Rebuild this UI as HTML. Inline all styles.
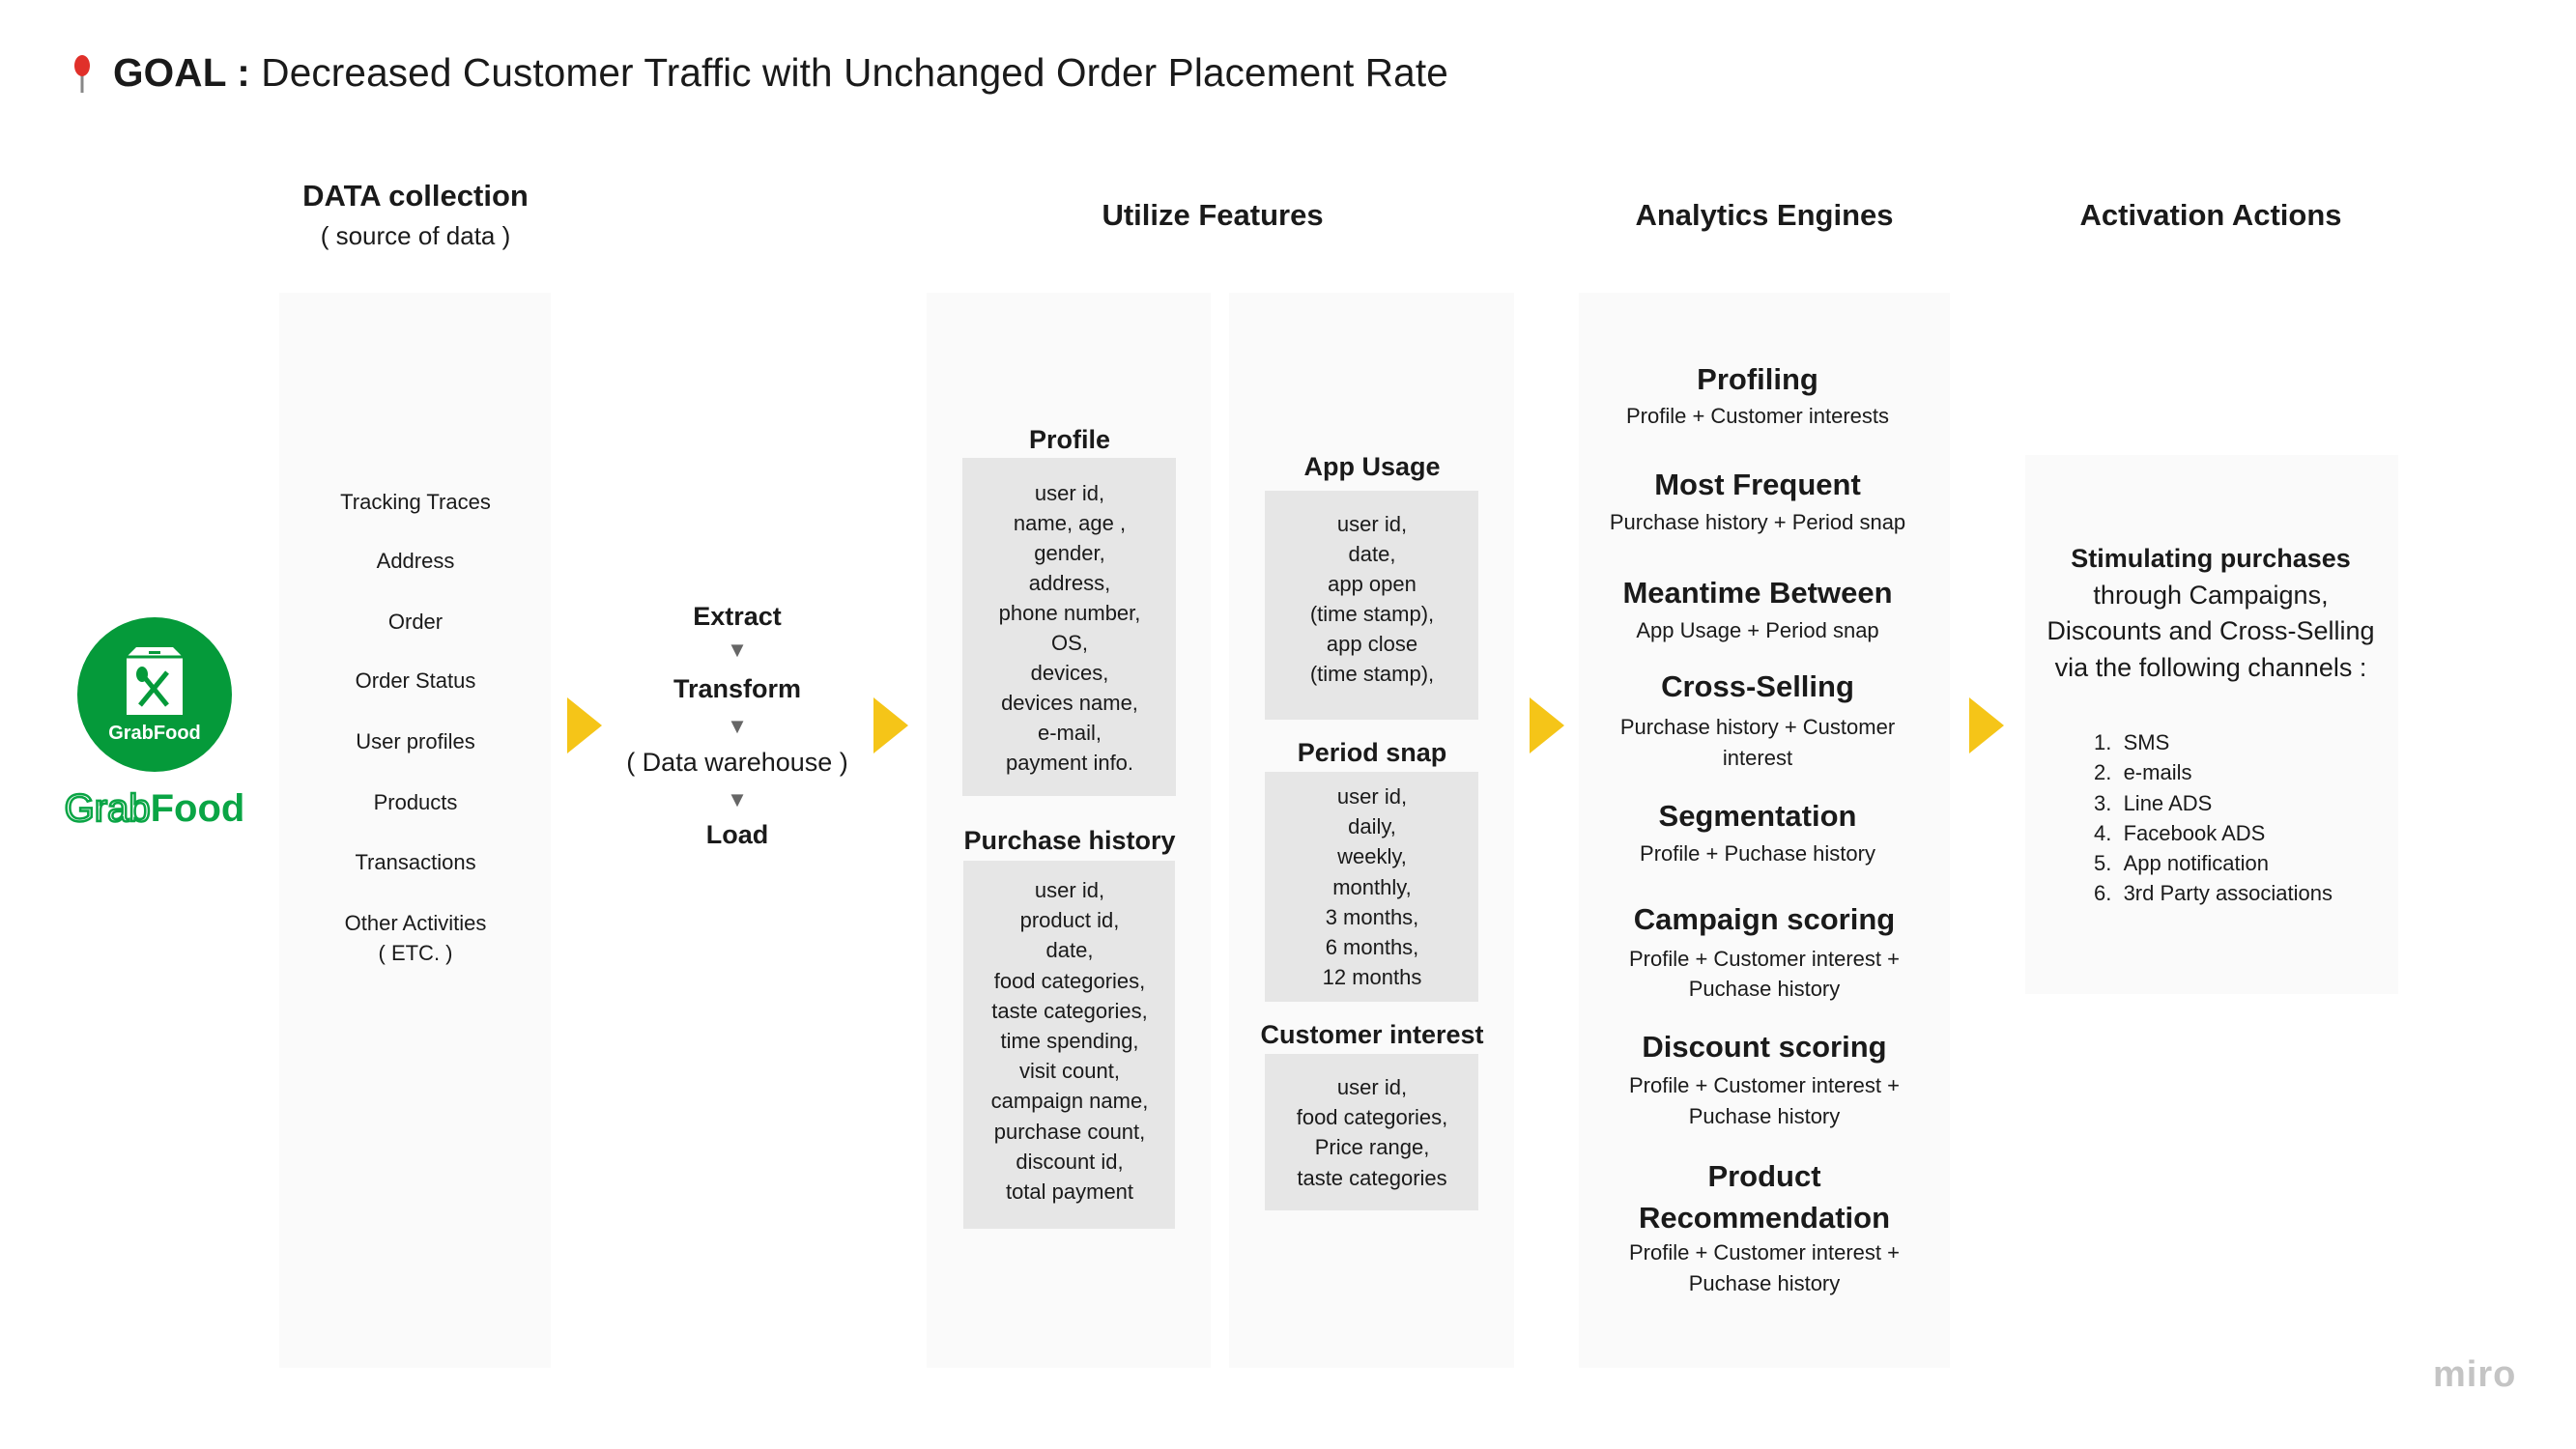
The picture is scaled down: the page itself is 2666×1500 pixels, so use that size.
<!DOCTYPE html>
<html><head><meta charset="utf-8"><style>
body{margin:0;width:2666px;height:1500px;background:#fff;position:relative;overflow:hidden;font-family:"Liberation Sans",sans-serif;color:#1a1a1a}
.p{position:absolute;background:#fafafa}
.b{position:absolute;background:#e6e6e6}
.t{position:absolute;width:700px;text-align:center;white-space:nowrap}
.h{font-weight:bold;font-size:31px}
.s{font-size:22px}
.tri{position:absolute;width:0;height:0;border-top:29px solid transparent;border-bottom:29px solid transparent;border-left:36px solid #f5c518}
</style></head><body>
<svg style="position:absolute;left:72px;top:56px" width="26" height="42"><line x1="13" y1="16" x2="13" y2="40" stroke="#888" stroke-width="3"/><ellipse cx="13" cy="12" rx="8" ry="11" fill="#e0302a"/></svg>
<div style="position:absolute;left:117px;top:52px;font-size:40.5px;white-space:nowrap;letter-spacing:0.15px"><b>GOAL :</b> Decreased Customer Traffic with Unchanged Order Placement Rate</div>

<div class="p" style="left:289px;top:303px;width:281px;height:1113px"></div>
<div class="p" style="left:959px;top:303px;width:294px;height:1113px"></div>
<div class="p" style="left:1272px;top:303px;width:295px;height:1113px"></div>
<div class="p" style="left:1634px;top:303px;width:384px;height:1113px"></div>
<div class="p" style="left:2096px;top:471px;width:386px;height:558px"></div>

<div class="t h" style="left:80px;top:185px">DATA collection</div>
<div class="t" style="left:80px;top:229px;font-size:26px">( source of data )</div>
<div class="t h" style="left:905px;top:205px">Utilize Features</div>
<div class="t h" style="left:1476px;top:205px">Analytics Engines</div>
<div class="t h" style="left:1938px;top:205px">Activation Actions</div>

<div class="t s" style="left:80px;top:504px;line-height:31px">Tracking Traces</div>
<div class="t s" style="left:80px;top:565px;line-height:31px">Address</div>
<div class="t s" style="left:80px;top:628px;line-height:31px">Order</div>
<div class="t s" style="left:80px;top:689px;line-height:31px">Order Status</div>
<div class="t s" style="left:80px;top:752px;line-height:31px">User profiles</div>
<div class="t s" style="left:80px;top:815px;line-height:31px">Products</div>
<div class="t s" style="left:80px;top:877px;line-height:31px">Transactions</div>
<div class="t s" style="left:80px;top:940px;line-height:31px">Other Activities<br>( ETC. )</div>

<div style="position:absolute;left:80px;top:639px;width:160px;height:160px;border-radius:50%;background:#059a3a"></div>
<svg style="position:absolute;left:127px;top:668px" width="66" height="76"><path d="M4 12 L14 2 H52 L62 12 V72 H4 Z" fill="#fff"/><path d="M4 12 H62" stroke="#059a3a" stroke-width="3"/><rect x="27" y="6" width="12" height="3" fill="#059a3a"/><line x1="18" y1="62" x2="46" y2="28" stroke="#059a3a" stroke-width="5"/><line x1="20" y1="30" x2="46" y2="62" stroke="#059a3a" stroke-width="5"/><ellipse cx="20" cy="30" rx="6" ry="8" fill="#059a3a"/></svg>
<div style="position:absolute;left:80px;top:748px;width:160px;text-align:center;color:#fff;font-weight:bold;font-size:20px">GrabFood</div>
<div style="position:absolute;left:62px;top:815px;width:196px;text-align:center;color:#0aa545;font-size:40px"><span style="color:#fff;-webkit-text-stroke:2.5px #0aa545">Grab</span><b>Food</b></div>

<div class="tri" style="left:587px;top:722px"></div>
<div class="tri" style="left:904px;top:722px"></div>
<div class="tri" style="left:1583px;top:722px"></div>
<div class="tri" style="left:2038px;top:722px"></div>

<div class="t" style="left:413px;top:623px;font-size:27px;font-weight:bold">Extract</div>
<div class="t" style="left:413px;top:660px;font-size:22px;color:#666">▼</div>
<div class="t" style="left:413px;top:698px;font-size:27px;font-weight:bold">Transform</div>
<div class="t" style="left:413px;top:739px;font-size:22px;color:#666">▼</div>
<div class="t" style="left:413px;top:774px;font-size:27px">( Data warehouse )</div>
<div class="t" style="left:413px;top:815px;font-size:22px;color:#666">▼</div>
<div class="t" style="left:413px;top:849px;font-size:27px;font-weight:bold">Load</div>

<div class="t" style="left:757px;top:440px;font-size:27px;font-weight:bold">Profile</div>
<div class="b" style="left:996px;top:474px;width:221px;height:350px"></div>
<div class="t s" style="left:757px;top:495px;line-height:31px">user id,<br>name, age ,<br>gender,<br>address,<br>phone number,<br>OS,<br>devices,<br>devices name,<br>e-mail,<br>payment info.</div>
<div class="t" style="left:757px;top:855px;font-size:27px;font-weight:bold">Purchase history</div>
<div class="b" style="left:997px;top:891px;width:219px;height:381px"></div>
<div class="t s" style="left:757px;top:906px;line-height:31.2px">user id,<br>product id,<br>date,<br>food categories,<br>taste categories,<br>time spending,<br>visit count,<br>campaign name,<br>purchase count,<br>discount id,<br>total payment</div>

<div class="t" style="left:1070px;top:468px;font-size:27px;font-weight:bold">App Usage</div>
<div class="b" style="left:1309px;top:508px;width:221px;height:237px"></div>
<div class="t s" style="left:1070px;top:527px;line-height:31px">user id,<br>date,<br>app open<br>(time stamp),<br>app close<br>(time stamp),</div>
<div class="t" style="left:1070px;top:764px;font-size:27px;font-weight:bold">Period snap</div>
<div class="b" style="left:1309px;top:799px;width:221px;height:238px"></div>
<div class="t s" style="left:1070px;top:809px;line-height:31.2px">user id,<br>daily,<br>weekly,<br>monthly,<br>3 months,<br>6 months,<br>12 months</div>
<div class="t" style="left:1070px;top:1056px;font-size:27px;font-weight:bold">Customer interest</div>
<div class="b" style="left:1309px;top:1091px;width:221px;height:162px"></div>
<div class="t s" style="left:1070px;top:1110px;line-height:31.2px">user id,<br>food categories,<br>Price range,<br>taste categories</div>

<div class="t h" style="left:1469px;top:375px">Profiling</div>
<div class="t s" style="left:1469px;top:418px">Profile + Customer interests</div>
<div class="t h" style="left:1469px;top:484px">Most Frequent</div>
<div class="t s" style="left:1469px;top:528px">Purchase history + Period snap</div>
<div class="t h" style="left:1469px;top:596px">Meantime Between</div>
<div class="t s" style="left:1469px;top:640px">App Usage + Period snap</div>
<div class="t h" style="left:1469px;top:693px">Cross-Selling</div>
<div class="t s" style="left:1469px;top:737px;line-height:32px">Purchase history + Customer<br>interest</div>
<div class="t h" style="left:1469px;top:827px">Segmentation</div>
<div class="t s" style="left:1469px;top:871px">Profile + Puchase history</div>
<div class="t h" style="left:1476px;top:934px">Campaign scoring</div>
<div class="t s" style="left:1476px;top:977px;line-height:31px">Profile + Customer interest +<br>Puchase history</div>
<div class="t h" style="left:1476px;top:1066px">Discount scoring</div>
<div class="t s" style="left:1476px;top:1108px;line-height:32px">Profile + Customer interest +<br>Puchase history</div>
<div class="t h" style="left:1476px;top:1196px;line-height:43px">Product<br>Recommendation</div>
<div class="t s" style="left:1476px;top:1281px;line-height:32px">Profile + Customer interest +<br>Puchase history</div>

<div class="t" style="left:1938px;top:560px;font-size:27px;line-height:37.5px"><b>Stimulating purchases</b><br>through Campaigns,<br>Discounts and Cross-Selling<br>via the following channels :</div>
<div style="position:absolute;left:2167px;top:753px;font-size:22px;line-height:31.3px;white-space:nowrap">
1.&nbsp;&nbsp;SMS<br>2.&nbsp;&nbsp;e-mails<br>3.&nbsp;&nbsp;Line ADS<br>4.&nbsp;&nbsp;Facebook ADS<br>5.&nbsp;&nbsp;App notification<br>6.&nbsp;&nbsp;3rd Party associations</div>

<div style="position:absolute;left:2518px;top:1402px;font-size:38px;color:#c4c4c4;font-weight:bold;letter-spacing:1px">miro</div>
</body></html>
